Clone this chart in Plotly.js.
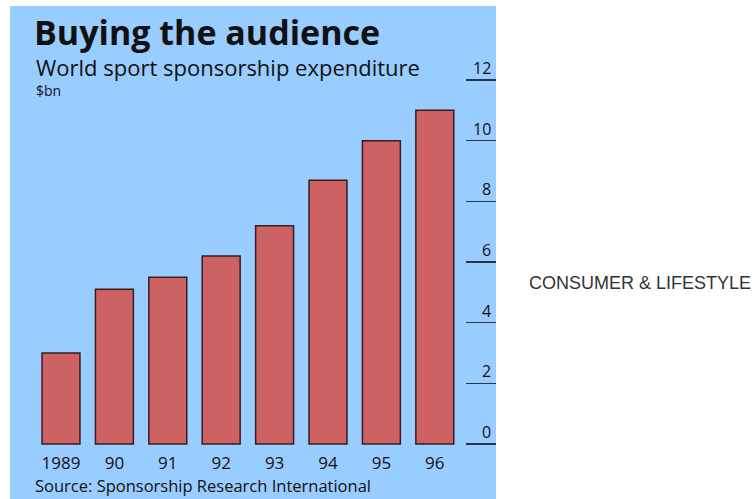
<!DOCTYPE html>
<html>
<head>
<meta charset="utf-8">
<script src="https://cdn.plot.ly/plotly-3.0.1.min.js"></script>
<style>html,body{margin:0;padding:0;background:#fff;}#chart{width:752px;height:499px;}</style>
</head>
<body>
<div id="chart"></div>
<script>
const years = ['1989', '90', '91', '92', '93', '94', '95', '96'];
const spend = [3.0, 5.1, 5.5, 6.2, 7.2, 8.7, 10.0, 11.0];
const yTicks = [0, 2, 4, 6, 8, 10, 12];
const yTickText = ['0', '2', '4', '6', '8', '10', '12'];

const FONT = '"Open Sans", "Noto Sans", sans-serif';
const INK = '#111111';

const trace = {
  type: 'bar',
  x: years,
  y: spend,
  width: 0.71,
  marker: {color: '#CC6262', line: {color: '#3a1c1c', width: 1.5}},
  hoverinfo: 'skip'
};

const annotations = yTicks.map((v, i) => ({
  xref: 'paper', yref: 'y', x: 1, y: v,
  xanchor: 'right', yanchor: 'middle', xshift: -3, yshift: 12,
  text: yTickText[i], showarrow: false,
  font: {family: FONT, size: 16, color: INK}
}));

annotations.push(
  {xref: 'paper', yref: 'paper', x: (34 - 10) / 486, y: 1 - (67 - 6) / 493,
   xanchor: 'left', yanchor: 'middle', showarrow: false,
   text: 'World sport sponsorship expenditure',
   font: {family: FONT, size: 22, color: INK}},
  {xref: 'paper', yref: 'paper', x: (34 - 10) / 486, y: 1 - (90 - 6) / 493,
   xanchor: 'left', yanchor: 'middle', showarrow: false,
   text: '$bn', font: {family: FONT, size: 14, color: INK}},
  {xref: 'paper', yref: 'paper', x: (33 - 10) / 486, y: 1 - (485 - 6) / 493,
   xanchor: 'left', yanchor: 'middle', showarrow: false,
   text: 'Source: Sponsorship Research International',
   font: {family: FONT, size: 16.5, color: INK}},
  {xref: 'paper', yref: 'paper', x: (527 - 10) / 486, y: 1 - (283 - 6) / 493,
   xanchor: 'left', yanchor: 'middle', showarrow: false,
   text: 'CONSUMER &amp; LIFESTYLE',
   font: {family: '"Liberation Sans", Arial, sans-serif', size: 18, color: '#333333'}}
);

const layout = {
  width: 752, height: 499,
  margin: {l: 10, r: 256, t: 6, b: 0, pad: 0},
  paper_bgcolor: '#ffffff',
  plot_bgcolor: '#99CCFF',
  showlegend: false,
  title: {
    text: '<b>Buying the audience</b>',
    xref: 'container', yref: 'container',
    x: 34 / 752, xanchor: 'left',
    y: 1 - 33 / 499, yanchor: 'middle',
    font: {family: FONT, size: 34, color: INK}
  },
  xaxis: {
    type: 'category',
    range: [-0.955, 8.146],
    anchor: 'free', position: 0.0973,
    showline: false, showgrid: false, zeroline: false,
    ticks: '',
    tickfont: {family: FONT, size: 17, color: INK}
  },
  yaxis: {
    range: [-1.81, 14.44],
    side: 'right',
    tickvals: yTicks,
    ticks: 'inside', ticklen: 30, tickwidth: 1.5, tickcolor: '#2a3548',
    showticklabels: false,
    showline: false, showgrid: false, zeroline: false
  },
  annotations: annotations,
  bargap: 0.29
};

Plotly.newPlot('chart', [trace], layout, {displayModeBar: false, staticPlot: true});
</script>
</body>
</html>
